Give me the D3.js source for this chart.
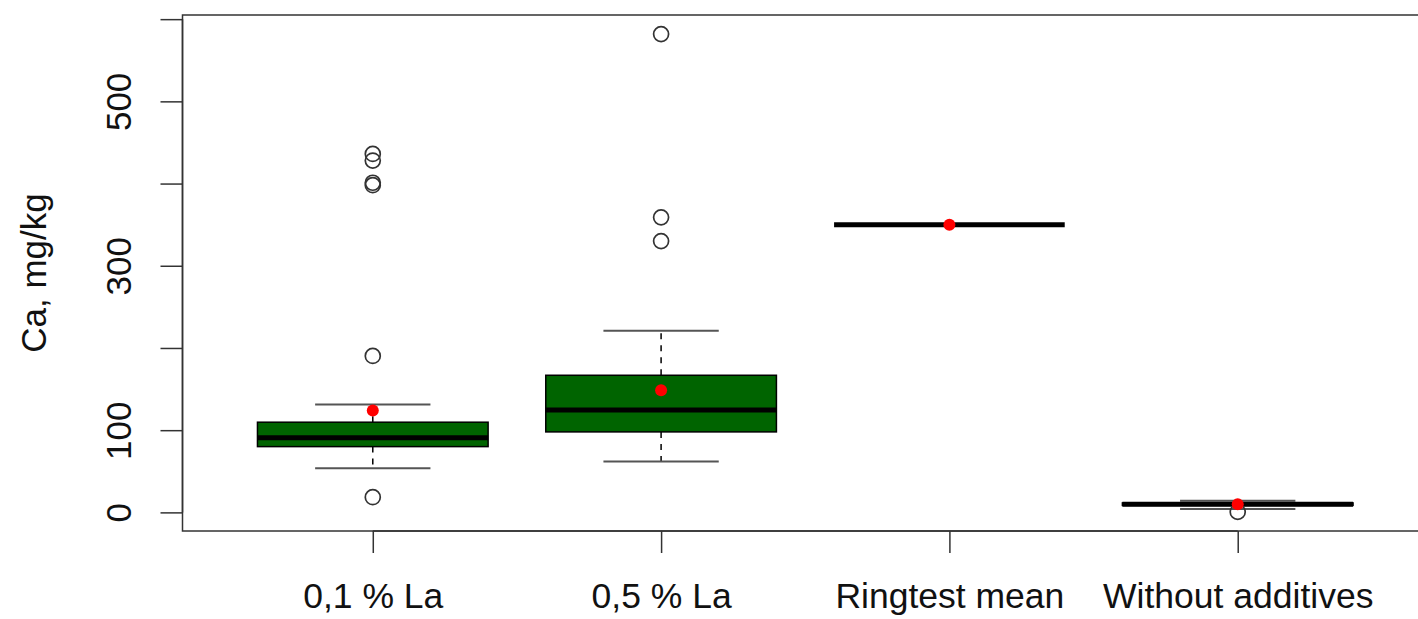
<!DOCTYPE html>
<html><head><meta charset="utf-8">
<script src="https://cdn.jsdelivr.net/npm/d3@7"></script>
<style>
body{margin:0;background:#fff}
svg{display:block}
text{font-family:"Liberation Sans",Arial,Helvetica,sans-serif;fill:#111}
</style>
</head><body><svg id="c" width="1418" height="619"></svg>
<script>
// ---- data ----
const categories = ["0,1 % La", "0,5 % La", "Ringtest mean", "Without additives"];
const lowerWhisker = [53.7, 61.8, 350, 4];
const q1 = [80, 97.9, 350, 8.5];
const median = [90.9, 124.6, 350, 10];
const q3 = [109.7, 166.8, 350, 11.5];
const upperWhisker = [131.1, 221, 350, 14];
const means = [123.8, 148.6, 350, 10];
const outliers = [[436, 428, 401, 398, 190.3, 18.5], [581.8, 358.9, 330], [], [0.6]];
const yTicks = [0, 100, 200, 300, 400, 500, 600];
const yTickLabels = ["0", "100", "", "300", "", "500", ""];
const yTitle = "Ca, mg/kg";

// ---- layout ----
const frame = {left: 182.5, right: 1428, top: 15, bottom: 531};
const svg = d3.select("#c");

const n = categories.length;
const xExt = 0.04 * n;
const x = d3.scaleLinear().domain([0.5 - xExt, n + 0.5 + xExt]).range([frame.left, frame.right]);

const allVals = [].concat(lowerWhisker, upperWhisker, means, ...outliers);
const lo = d3.min(allVals), hi = d3.max(allVals), ext = 0.04 * (hi - lo);
const y = d3.scaleLinear().domain([lo - ext, hi + ext]).range([frame.bottom, frame.top]);

const boxHalf = 0.4, capHalf = 0.2;
const groups = categories.map((c, i) => ({
  i: i + 1, c, lw: lowerWhisker[i], q1: q1[i], med: median[i], q3: q3[i], uw: upperWhisker[i],
  mean: means[i], out: outliers[i]
}));

const g = svg.append("g");

// whiskers (dashed)
g.selectAll(".wu").data(groups).join("line")
  .attr("x1", d => x(d.i)).attr("x2", d => x(d.i))
  .attr("y1", d => y(d.q3)).attr("y2", d => y(d.uw))
  .attr("stroke", "#000").attr("stroke-width", 1.5).attr("stroke-dasharray", "6,6");
g.selectAll(".wl").data(groups).join("line")
  .attr("x1", d => x(d.i)).attr("x2", d => x(d.i))
  .attr("y1", d => y(d.q1)).attr("y2", d => y(d.lw))
  .attr("stroke", "#000").attr("stroke-width", 1.5).attr("stroke-dasharray", "6,6");

// caps
["uw", "lw"].forEach(k => {
  g.selectAll(".cap" + k).data(groups).join("line")
    .attr("x1", d => x(d.i - capHalf)).attr("x2", d => x(d.i + capHalf))
    .attr("y1", d => y(d[k])).attr("y2", d => y(d[k]))
    .attr("stroke", "#555").attr("stroke-width", 2);
});

// boxes
g.selectAll(".box").data(groups).join("rect")
  .attr("x", d => x(d.i - boxHalf))
  .attr("width", d => x(d.i + boxHalf) - x(d.i - boxHalf))
  .attr("y", d => y(d.q3))
  .attr("height", d => Math.max(0, y(d.q1) - y(d.q3)))
  .attr("fill", "#006400").attr("stroke", "#000").attr("stroke-width", 1.5);

// medians
g.selectAll(".med").data(groups).join("line")
  .attr("x1", d => x(d.i - boxHalf)).attr("x2", d => x(d.i + boxHalf))
  .attr("y1", d => y(d.med)).attr("y2", d => y(d.med))
  .attr("stroke", "#000").attr("stroke-width", 5);

// outliers
const outPts = groups.flatMap(d => d.out.map(v => ({i: d.i, v})));
g.selectAll(".out").data(outPts).join("circle")
  .attr("cx", d => x(d.i)).attr("cy", d => y(d.v)).attr("r", 7.5)
  .attr("fill", "none").attr("stroke", "#333").attr("stroke-width", 1.7);

// means
g.selectAll(".mean").data(groups).join("circle")
  .attr("cx", d => x(d.i)).attr("cy", d => y(d.mean)).attr("r", 6)
  .attr("fill", "#ff0000");

// frame
svg.append("rect")
  .attr("x", frame.left).attr("y", frame.top)
  .attr("width", frame.right - frame.left).attr("height", frame.bottom - frame.top)
  .attr("fill", "none").attr("stroke", "#333").attr("stroke-width", 1.5);

// y axis
const yAxis = d3.axisLeft(y).tickValues(yTicks)
  .tickFormat((d, i) => yTickLabels[i]).tickSize(22).tickSizeOuter(0);
const ya = svg.append("g").attr("transform", `translate(${frame.left},0)`).call(yAxis);
ya.select(".domain").remove();
ya.selectAll(".tick line").attr("stroke", "#333").attr("stroke-width", 1.5);
ya.selectAll(".tick text")
  .attr("transform", "rotate(-90)")
  .attr("x", 0).attr("y", -51.5).attr("dy", 0)
  .attr("text-anchor", "middle")
  .style("font-size", "35px").style("fill", "#111");
svg.append("line")
  .attr("x1", frame.left).attr("x2", frame.left)
  .attr("y1", y(d3.min(yTicks))).attr("y2", y(d3.max(yTicks)))
  .attr("stroke", "#333").attr("stroke-width", 1.5);

// x axis
const xAxis = d3.axisBottom(x).tickValues(d3.range(1, n + 1))
  .tickFormat((d, i) => categories[i]).tickSize(22).tickSizeOuter(0);
const xa = svg.append("g").attr("transform", `translate(0,${frame.bottom})`).call(xAxis);
xa.select(".domain").remove();
xa.selectAll(".tick line").attr("stroke", "#333").attr("stroke-width", 1.5);
xa.selectAll(".tick text")
  .attr("y", 77).attr("dy", 0)
  .style("font-size", "35.5px").style("fill", "#111");
svg.append("line")
  .attr("x1", x(1)).attr("x2", x(n))
  .attr("y1", frame.bottom).attr("y2", frame.bottom)
  .attr("stroke", "#333").attr("stroke-width", 1.5);

// y title
svg.append("text")
  .attr("transform", `translate(46,${(frame.top + frame.bottom) / 2}) rotate(-90)`)
  .attr("text-anchor", "middle")
  .style("font-size", "35px")
  .text(yTitle);
</script>
</body></html>
